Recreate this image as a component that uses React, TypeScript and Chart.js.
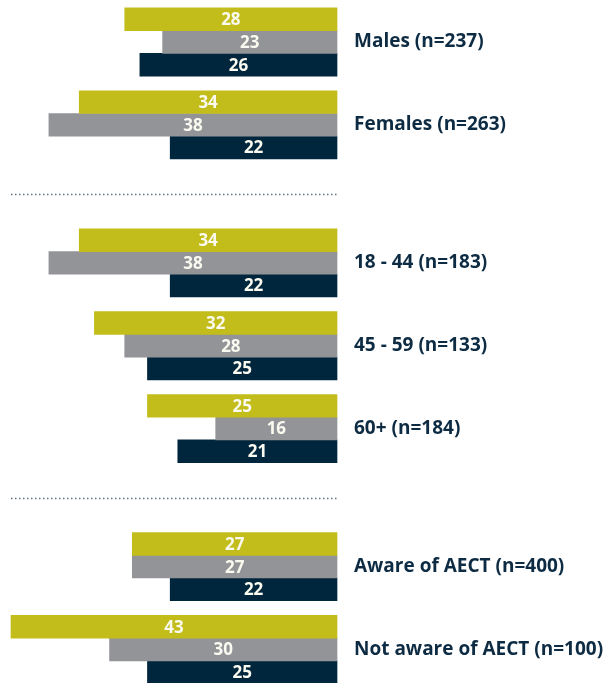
import React, { useEffect, useRef } from 'react';
import { Chart, registerables } from 'chart.js';

Chart.register(...registerables);

// Group labels, arranged in sections separated by dotted rules
const sections: string[][] = [
  ['Males (n=237)', 'Females (n=263)'],
  ['18 - 44 (n=183)', '45 - 59 (n=133)', '60+ (n=184)'],
  ['Aware of AECT (n=400)', 'Not aware of AECT (n=100)'],
];

// Series values (one per group, in order)
const seriesOlive = [28, 34, 34, 32, 25, 27, 43];
const seriesGray = [23, 38, 38, 28, 16, 27, 30];
const seriesNavy = [26, 22, 22, 25, 21, 22, 25];

const COLORS = ['#c3bd1b', '#939498', '#00263d'];
const LABEL_COLOR = '#0d2b42';
const FONT = '"Open Sans", Lato, sans-serif';

// slot layout: groups 3 slots apart, sections 5 slots apart
const GROUP_STEP = 3;
const SECTION_STEP = 5;

function buildLayout() {
  const slots: number[] = [];
  const sectionBreaks: [number, number][] = [];
  let pos = 0;
  let first = true;
  sections.forEach((sec) => {
    sec.forEach((_, gi) => {
      if (!first) {
        if (gi === 0) {
          sectionBreaks.push([pos, pos + SECTION_STEP]);
          pos += SECTION_STEP;
        } else pos += GROUP_STEP;
      }
      first = false;
      slots.push(pos);
    });
  });
  const total = pos + 1;
  const labels: string[] = Array(total).fill('');
  const flat = sections.flat();
  slots.forEach((s, i) => (labels[s] = flat[i]));
  const pad = (vals: number[]) => {
    const arr: (number | null)[] = Array(total).fill(null);
    slots.forEach((s, i) => (arr[s] = vals[i]));
    return arr;
  };
  return { labels, pad, sectionBreaks };
}

export default function App() {
  const ref = useRef<HTMLCanvasElement | null>(null);

  useEffect(() => {
    if (!ref.current) return;
    const { labels, pad, sectionBreaks } = buildLayout();

    const valueLabels = {
      id: 'valueLabels',
      afterDatasetsDraw(chart: any) {
        const ctx = chart.ctx;
        ctx.save();
        ctx.font = `bold 17px ${FONT}`;
        ctx.fillStyle = '#fafaf0';
        ctx.textAlign = 'center';
        ctx.textBaseline = 'middle';
        chart.data.datasets.forEach((ds: any, di: number) => {
          const meta = chart.getDatasetMeta(di);
          meta.data.forEach((el: any, i: number) => {
            const v = ds.data[i];
            if (v === null || v === undefined) return;
            ctx.fillText(String(v), (el.x + el.base) / 2, el.y + 1);
          });
        });
        ctx.restore();
      },
    };

    const separators = {
      id: 'separators',
      afterDraw(chart: any) {
        const ctx = chart.ctx;
        const y = chart.scales.y;
        const area = chart.chartArea;
        ctx.save();
        ctx.strokeStyle = '#5d6e7c';
        ctx.lineWidth = 1.5;
        ctx.setLineDash([1.5, 2.5]);
        sectionBreaks.forEach(([a, b]) => {
          const py = Math.round((y.getPixelForValue(a) + y.getPixelForValue(b)) / 2) + 0.5;
          ctx.beginPath();
          ctx.moveTo(area.left, py);
          ctx.lineTo(area.right, py);
          ctx.stroke();
        });
        ctx.restore();
      },
    };

    const chart = new Chart(ref.current, {
      type: 'bar',
      data: {
        labels,
        datasets: [
          { data: pad(seriesOlive), backgroundColor: COLORS[0] },
          { data: pad(seriesGray), backgroundColor: COLORS[1] },
          { data: pad(seriesNavy), backgroundColor: COLORS[2] },
        ].map((d) => ({ ...d, barThickness: 22.7, clip: false as any, borderWidth: 0 })),
      },
      options: {
        indexAxis: 'y',
        animation: false,
        responsive: false,
        maintainAspectRatio: false,
        layout: { padding: { left: 11, top: 42, bottom: 33.5, right: 0 } },
        plugins: {
          legend: { display: false },
          tooltip: { enabled: false },
        },
        scales: {
          x: {
            display: false,
            reverse: true,
            min: 0,
            max: 43,
          },
          y: {
            position: 'right',
            offset: false,
            grid: { display: false, drawTicks: false },
            border: { display: false },
            ticks: {
              autoSkip: false,
              padding: 17,
              color: LABEL_COLOR,
              font: { family: FONT, size: 19, weight: 'bold' },
            },
            afterFit(scale: any) {
              scale.width = 272;
            },
          },
        },
      },
      plugins: [valueLabels, separators],
    });
    return () => chart.destroy();
  }, []);

  return (
    <div style={{ position: 'absolute', left: 0, top: 0, width: 609, height: 683 }}>
      <canvas ref={ref} width={609} height={683} style={{ width: 609, height: 683 }} />
    </div>
  );
}
